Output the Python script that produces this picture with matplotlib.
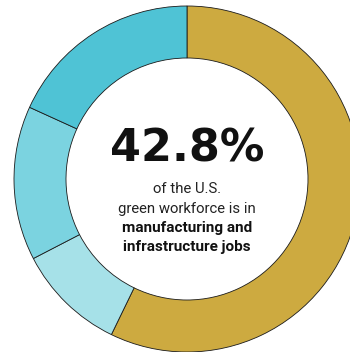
import matplotlib
matplotlib.use('Agg')
from matplotlib import pyplot as plt

# share of the U.S. green workforce, in percent
SEGMENTS = ['manufacturing and infrastructure', 'other a', 'other b', 'other c']
SHARES = [57.2, 10.2, 14.4, 18.2]
COLORS = ['#CDAA40', '#A6E1E8', '#7BD3E0', '#4FC3D5']

HEADLINE = "42.8%"
CAPTION = ["of the U.S.", "green workforce is in"]
CAPTION_BOLD = ["manufacturing and", "infrastructure jobs"]

W, H = 350, 352
CENTER = (187, H - 179)
RADIUS = 173
RING = 52

fig = plt.figure(figsize=(W / 100, H / 100), dpi=100)
ax = fig.add_axes([0, 0, 1, 1])
ax.pie(SHARES, colors=COLORS, startangle=90, counterclock=False,
       center=CENTER, radius=RADIUS,
       wedgeprops=dict(width=RING, edgecolor='#1a1a1a', linewidth=0.6))
ax.set_xlim(0, W)
ax.set_ylim(0, H)
ax.set_aspect('equal')
ax.axis('off')

ax.text(CENTER[0], H - 149, HEADLINE, ha='center', va='center',
        fontsize=32, fontweight='heavy', family='DejaVu Sans', color='#111111')

y = H - 189
for line in CAPTION:
    ax.text(CENTER[0], y, line, ha='center', va='center', fontsize=10.7,
            family='Roboto', color='#222222')
    y -= 19.5
for line in CAPTION_BOLD:
    ax.text(CENTER[0], y, line, ha='center', va='center', fontsize=11,
            family='Roboto', fontweight='bold', color='#111111')
    y -= 19.5

fig.savefig('out.png', dpi=100)
